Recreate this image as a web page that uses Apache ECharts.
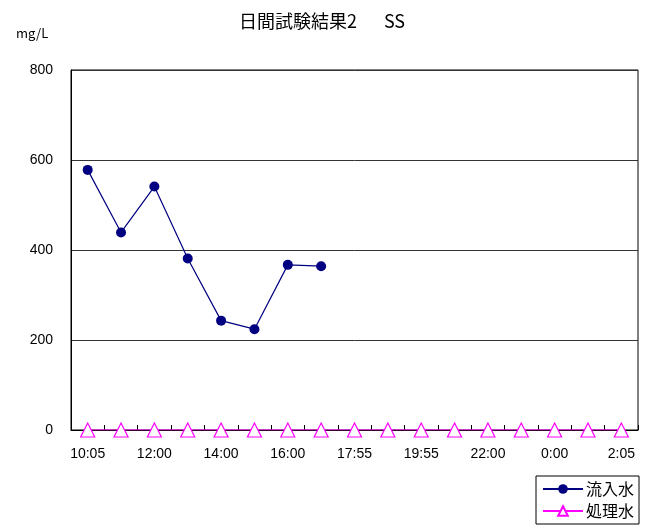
<!DOCTYPE html>
<html>
<head>
<meta charset="utf-8">
<script src="https://cdn.jsdelivr.net/npm/echarts@6/dist/echarts.min.js"></script>
<style>
  html, body { margin: 0; padding: 0; background: #fff; }
  #chart { width: 650px; height: 528px; }
</style>
</head>
<body>
<div id="chart"></div>
<script>
// Sampling times (hourly, over one day)
const times = ['10:05', '11:00', '12:00', '13:00', '14:00', '15:00', '16:00', '17:00',
  '17:55', '19:00', '19:55', '21:00', '22:00', '23:00', '0:00', '1:00', '2:05'];
// SS concentration, influent (mg/L)
const influent = [578, 439, 541, 381, 243, 224, 367, 364];
// SS concentration, treated water (mg/L)
const treated = [0, 0, 0, 0, 0, 0, 0, 0, 0, 0, 0, 0, 0, 0, 0, 0, 0];
// Y axis range
const yMin = 0, yMax = 800, yStep = 200;

const font = '"Liberation Sans", "Noto Sans CJK JP", sans-serif';
const cjk = '"Noto Sans CJK JP", sans-serif';

const chart = echarts.init(document.getElementById('chart'));
chart.setOption({
  animation: false,
  backgroundColor: '#fff',
  title: {
    text: '日間試験結果2\u3000\u2002SS',
    left: 317,
    textAlign: 'center',
    top: 7,
    textStyle: { fontFamily: cjk, fontSize: 18, fontWeight: 'normal', color: '#000' }
  },
  graphic: [{
    type: 'text',
    left: 16,
    top: 27,
    style: { text: 'mg/L', font: '13px ' + cjk, fill: '#000' }
  }],
  legend: {
    orient: 'vertical',
    left: 536,
    top: 476,
    padding: [5, 5, 5, 6],
    itemGap: 6,
    itemWidth: 40,
    itemHeight: 12,
    borderColor: '#000',
    borderWidth: 1,
    borderRadius: 0,
    textStyle: { fontFamily: cjk, fontSize: 16, color: '#000', padding: [0, 0, 0, -2] },
    data: ['流入水', '処理水']
  },
  grid: {
    left: 71, right: 12, top: 70, bottom: 98,
    show: true, borderColor: '#000', borderWidth: 1,
    containLabel: false
  },
  xAxis: {
    type: 'category',
    data: times,
    boundaryGap: true,
    axisLine: { lineStyle: { color: '#000', width: 1 } },
    axisTick: { show: true, inside: true, length: 5, interval: 0, lineStyle: { color: '#000' } },
    axisLabel: { interval: 1, fontFamily: font, fontSize: 14, color: '#000', margin: 17 }
  },
  yAxis: {
    type: 'value',
    min: yMin, max: yMax, interval: yStep,
    axisLine: { show: true, lineStyle: { color: '#000', width: 1 } },
    axisTick: { show: false },
    splitLine: { lineStyle: { color: '#333', width: 1 } },
    axisLabel: { fontFamily: font, fontSize: 14, color: '#000', margin: 18 }
  },
  series: [
    {
      name: '流入水',
      type: 'line',
      data: influent,
      symbol: 'circle',
      symbolSize: 10,
      lineStyle: { color: '#000080', width: 1.2 },
      itemStyle: { color: '#000080' },
      z: 3
    },
    {
      name: '処理水',
      type: 'line',
      data: treated,
      symbol: 'triangle',
      symbolSize: 14,
      showAllSymbol: true,
      lineStyle: { color: '#ff00ff', width: 1.2 },
      itemStyle: { color: '#fff', borderColor: '#ff00ff', borderWidth: 1.2 },
      z: 4
    }
  ]
});
</script>
</body>
</html>
